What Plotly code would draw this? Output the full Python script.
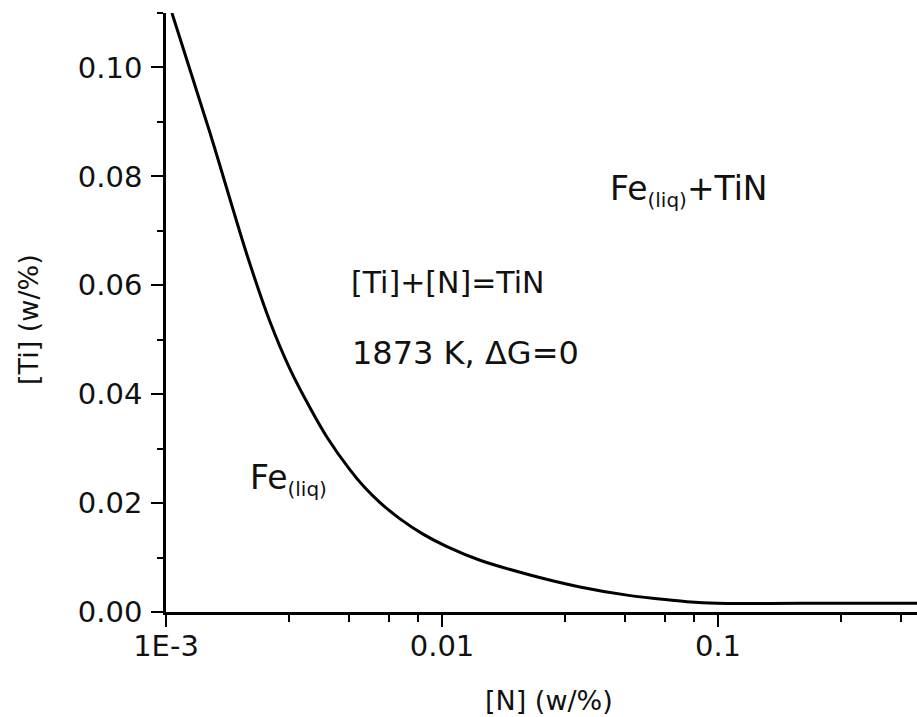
import plotly.graph_objects as go

# Equilibrium line for [Ti]+[N]=TiN at 1873 K (ΔG = 0)
n_wt = [0.001051, 0.001443, 0.001982, 0.002381, 0.002814, 0.003325, 0.003831,
        0.004642, 0.005260, 0.005962, 0.007045, 0.008535, 0.010425, 0.01373,
        0.02084, 0.03162, 0.04681, 0.06165, 0.07724, 0.09917, 0.2, 0.55]
ti_wt = [0.1100, 0.0880, 0.0650, 0.0533, 0.0446, 0.0375, 0.0321,
         0.0261, 0.0228, 0.0201, 0.0171, 0.0143, 0.0120, 0.0095,
         0.0068, 0.0046, 0.0031, 0.0024, 0.0019, 0.0016, 0.0016, 0.0016]

x_major = [0.001, 0.01, 0.1, 1]
x_major_text = ["1E-3", "0.01", "0.1", "1"]
x_minor_steps = [2.8, 4.6, 6.4, 8.2]
x_minor = [d * s for d in [0.001, 0.01, 0.1] for s in x_minor_steps]

y_major = [0.00, 0.02, 0.04, 0.06, 0.08, 0.10]
y_major_text = ["0.00", "0.02", "0.04", "0.06", "0.08", "0.10"]
y_minor = [0.01, 0.03, 0.05, 0.07, 0.09, 0.11]

FONT = "DejaVu Sans, Liberation Sans, Arial, sans-serif"
INK = "#111111"

fig = go.Figure()
fig.add_trace(go.Scatter(
    x=n_wt, y=ti_wt, mode="lines",
    line=dict(color="black", width=3, shape="spline", smoothing=1.0),
    showlegend=False, hoverinfo="skip",
))

axis_common = dict(
    showgrid=False, zeroline=False, showline=True, linecolor="black",
    linewidth=2.5, ticks="outside", ticklen=12, tickwidth=2,
    tickcolor="black",
    tickfont=dict(family=FONT, size=29, color=INK),
)

fig.update_layout(
    width=917, height=717,
    margin=dict(l=166, r=0, t=13, b=105),
    paper_bgcolor="white", plot_bgcolor="white",
    font=dict(family=FONT, color=INK),
    xaxis=dict(
        type="log", range=[-3, -0.279],
        tickmode="array", tickvals=x_major, ticktext=x_major_text,
        ticklabelstandoff=-6,
        minor=dict(tickmode="array", tickvals=x_minor, ticks="outside",
                   ticklen=7, tickwidth=2, tickcolor="black", showgrid=False),
        **axis_common,
    ),
    yaxis=dict(
        range=[0, 0.11],
        tickmode="array", tickvals=y_major, ticktext=y_major_text,
        ticklabelstandoff=3,
        minor=dict(tickmode="array", tickvals=y_minor, ticks="outside",
                   ticklen=6, tickwidth=2, tickcolor="black", showgrid=False),
        **axis_common,
    ),
)

def label(text, x, y, size, **kw):
    fig.add_annotation(text=text, x=x, y=y, xref="paper", yref="paper",
                       showarrow=False, xanchor=kw.pop("xanchor", "left"),
                       yanchor=kw.pop("yanchor", "middle"),
                       font=dict(family=FONT, size=size, color=INK), **kw)

SUB = "<sub><span style='font-size:20px'>(liq)</span></sub>"

# Axis titles
label("[N] (w/%)", 0.51, -0.147, 27, xanchor="center")
label("[Ti] (w/%)", -0.1824, 0.4875, 27, xanchor="center", textangle=-90)

# Region and reaction labels
label("Fe" + SUB + "+TiN", 0.5886, 0.703, 33)
label("[Ti]+[N]=TiN", 0.2437, 0.550, 30)
label("1873 K, ΔG=0", 0.245, 0.433, 32)
label("Fe" + SUB, 0.109, 0.222, 33)

fig.write_html("out.html")
